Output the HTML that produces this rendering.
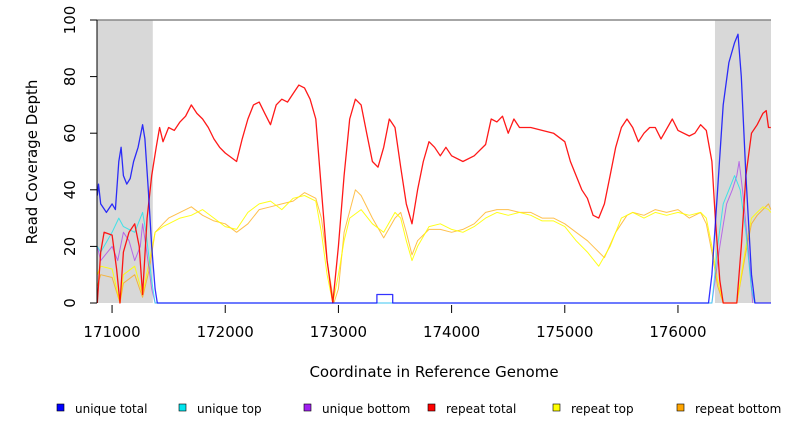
<!DOCTYPE html>
<html><head><meta charset="utf-8"><style>
body{margin:0;background:#fff;font-family:"Liberation Sans","DejaVu Sans",sans-serif}
svg text{font-family:"DejaVu Sans","Liberation Sans",sans-serif}
</style></head><body>
<svg id="chart" width="792" height="432" xmlns="http://www.w3.org/2000/svg">
<g id="plot"></g>
</svg>
<script>
const xTicks=[171000,172000,173000,174000,175000,176000];
const yTicks=[0,20,40,60,80,100];
const grayRegions=[[170867,171360],[176327,176822]];
const redX=[170870,170900,170930,171000,171040,171070,171100,171150,171200,171240,171270,171310,171350,171390,171420,171450,171500,171550,171600,171650,171700,171750,171800,171850,171900,171950,172000,172100,172150,172200,172250,172300,172350,172400,172450,172500,172550,172600,172650,172700,172750,172800,172850,172900,172950,173000,173050,173100,173150,173200,173250,173300,173350,173400,173450,173500,173550,173600,173650,173700,173750,173800,173850,173900,173950,174000,174100,174200,174300,174350,174400,174450,174500,174550,174600,174700,174800,174900,175000,175050,175100,175150,175200,175250,175300,175350,175400,175450,175500,175550,175600,175650,175700,175750,175800,175850,175950,176000,176100,176150,176200,176250,176300,176330,176370,176400,176520,176560,176600,176650,176700,176750,176780,176800,176820];
const redY=[0,18,25,24,12,0,18,25,28,20,3,30,45,55,62,57,62,61,64,66,70,67,65,62,58,55,53,50,58,65,70,71,67,63,70,72,71,74,77,76,72,65,40,15,0,20,45,65,72,70,60,50,48,55,65,62,48,35,28,40,50,57,55,52,55,52,50,52,56,65,64,66,60,65,62,62,61,60,57,50,45,40,37,31,30,35,45,55,62,65,62,57,60,62,62,58,65,61,59,60,63,61,50,30,8,0,0,20,45,60,63,67,68,62,62];
const yelX=[170870,170900,171000,171070,171100,171200,171270,171330,171380,171450,171500,171600,171700,171800,171900,172000,172100,172200,172300,172400,172500,172600,172700,172800,172850,172900,172950,173000,173050,173100,173200,173300,173400,173500,173550,173600,173650,173700,173800,173900,174000,174100,174200,174300,174400,174500,174600,174700,174800,174900,175000,175100,175200,175300,175400,175500,175600,175700,175800,175900,176000,176100,176200,176250,176300,176350,176400,176520,176600,176650,176700,176750,176800,176820];
const yelY=[10,13,12,0,10,13,3,15,25,27,28,30,31,33,30,27,26,32,35,36,33,37,38,36,25,10,0,10,22,30,33,28,25,32,30,22,15,20,27,28,26,25,27,30,32,31,32,31,29,29,27,22,18,13,20,30,32,30,32,31,32,31,32,30,20,8,0,0,20,30,32,34,33,32];
const oraX=[170870,170900,171000,171070,171100,171200,171270,171330,171380,171450,171500,171600,171700,171800,171900,172000,172100,172200,172300,172400,172500,172600,172700,172800,172850,172900,172960,173000,173050,173150,173200,173300,173400,173500,173550,173600,173650,173700,173800,173900,174000,174100,174200,174300,174400,174500,174600,174700,174800,174900,175000,175100,175200,175350,175450,175550,175600,175700,175800,175900,176000,176100,176200,176250,176300,176350,176400,176520,176600,176650,176700,176750,176800,176820];
const oraY=[6,10,9,0,7,10,2,12,25,28,30,32,34,31,29,28,25,28,33,34,35,36,39,37,30,15,0,5,25,40,38,30,23,30,32,25,17,22,26,26,25,26,28,32,33,33,32,32,30,30,28,25,22,16,25,31,32,31,33,32,33,30,32,28,18,6,0,0,18,28,31,33,35,33];
const bluX=[170870,170880,170900,170950,171000,171030,171060,171080,171100,171130,171160,171190,171230,171270,171290,171320,171350,171380,171400,173340,173340,173480,173480,176270,176300,176350,176400,176450,176500,176530,176560,176600,176650,176680,176822];
const bluY=[38,42,35,32,35,33,50,55,45,42,44,50,55,63,58,40,20,5,0,0,3,3,0,0,10,40,70,85,92,95,80,45,10,0,0];
const cyaX=[170870,170900,171000,171060,171100,171200,171270,171300,171350,171380,176300,176350,176400,176450,176500,176550,176600,176650,176680];
const cyaY=[20,18,25,30,27,25,32,25,8,0,0,20,35,40,45,40,25,5,0];
const purX=[170870,170900,171000,171050,171100,171150,171200,171250,171270,171300,171350,171380,176300,176370,176430,176480,176520,176540,176570,176620,176660];
const purY=[20,15,20,15,25,22,15,20,28,20,5,0,0,20,35,40,45,50,40,20,0];
const legendLabels=["unique total","unique top","unique bottom","repeat total","repeat top","repeat bottom"];
const legendColors=["#0000ff","#00e5ee","#a020f0","#ff0000","#ffff00","#ffa500"];

const NS="http://www.w3.org/2000/svg";
const L=97,R=771,T=20,B=303;
const X0=170867,X1=176822;
function sx(v){return L+(v-X0)/(X1-X0)*(R-L);}
function sy(v){return B-v/100*(B-T);}
const svg=document.getElementById('chart');
const g=document.getElementById('plot');
function mk(tag,at,parent){const e=document.createElementNS(NS,tag);for(const k in at)e.setAttribute(k,at[k]);(parent||svg).appendChild(e);return e;}

grayRegions.forEach((r,i)=>{
 const e=mk('rect',{x:sx(r[0]),y:T,width:sx(r[1])-sx(r[0]),height:B-T,fill:'#d8d8d8'},g);
 
 
});
const frame=mk('line',{x1:L,y1:T,x2:R,y2:T,stroke:'#888',"stroke-width":1.5},g);



function series(xs,ys,color,name,w,op){
 const pts=xs.map((x,i)=>sx(x).toFixed(1)+','+sy(ys[i]).toFixed(1)).join(' ');
 const e=mk('polyline',{points:pts,fill:'none',stroke:color,"stroke-width":w,"stroke-opacity":op,"stroke-linejoin":"round"},g);
 
 
}
series(oraX,oraY,'#ffa500','repeat-bottom-line',1,0.7);
series(yelX,yelY,'#ffff00','repeat-top-line',1,0.9);
series(purX,purY,'#a020f0','unique-bottom-line',1,0.6);
series(cyaX,cyaY,'#00e5ee','unique-top-line',1,0.7);
series(redX,redY,'#ff0000','repeat-total-line',1.3,0.9);
series(bluX,bluY,'#0000ff','unique-total-line',1.3,0.8);

const ya=mk('line',{x1:L,y1:T,x2:L,y2:B,stroke:'#000'});


yTicks.forEach(v=>{
 const t=mk('line',{x1:L-7,y1:sy(v),x2:L,y2:sy(v),stroke:'#000'});
 
 
 const tx=mk('text',{x:75,y:sy(v),"font-size":15,"text-anchor":"middle",transform:`rotate(-90 75 ${sy(v)})`});
 tx.textContent=v;
 
 
});
xTicks.forEach(v=>{
 const t=mk('line',{x1:sx(v),y1:305,x2:sx(v),y2:313,stroke:'#000'});
 
 
 const tx=mk('text',{x:sx(v),y:337,"font-size":15,"text-anchor":"middle"});
 tx.textContent=v;
 
 
});
const xt=mk('text',{x:434,y:377,"font-size":15,"text-anchor":"middle"});
xt.textContent='Coordinate in Reference Genome';


const yt=mk('text',{x:37,y:162,"font-size":15,"text-anchor":"middle",transform:'rotate(-90 37 162)'});
yt.textContent='Read Coverage Depth';



const lx=[57,179,304,428,553,677];
legendLabels.forEach((lab,i)=>{
 const r=mk('rect',{x:lx[i],y:404,width:7,height:7,fill:legendColors[i],stroke:'#000',"stroke-width":0.6});
 
 
 const t=mk('text',{x:lx[i]+18,y:413,"font-size":12});
 t.textContent=lab;
 
 
});
</script>
</body></html>
